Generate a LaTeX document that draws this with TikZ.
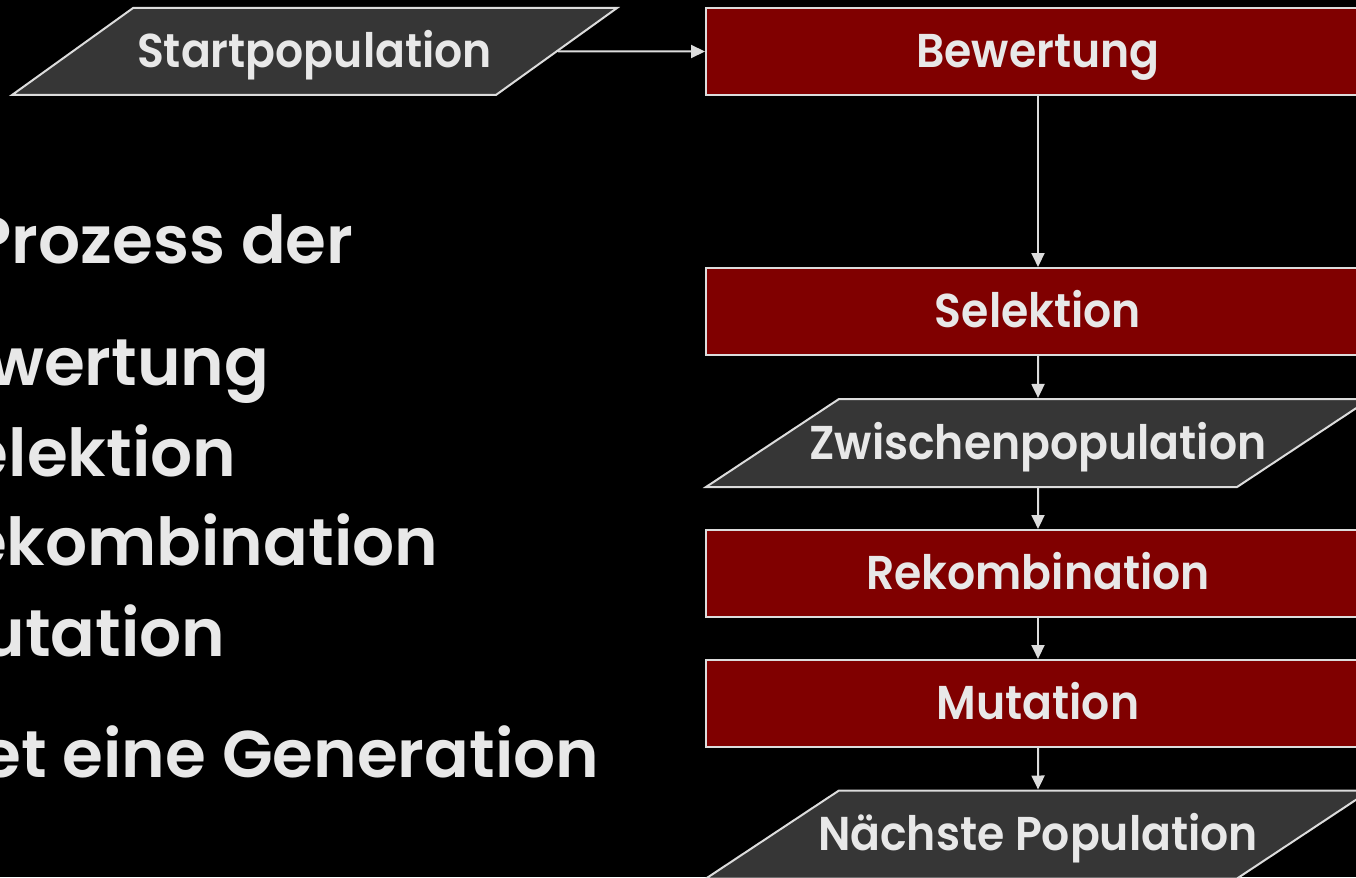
\documentclass[tikz,border=0pt]{standalone}
\usepackage{fontspec}
\setmainfont{Poppins}[BoldFont={Poppins SemiBold}]
\newfontfamily\boxfont{Poppins}[BoldFont={Poppins SemiBold}, FakeStretch=0.93]
\usetikzlibrary{arrows.meta,positioning,shapes.geometric}
\definecolor{SlideRed}{RGB}{128,0,0}
\definecolor{SlideGray}{RGB}{54,54,54}
\definecolor{SlideLine}{RGB}{220,220,220}
\definecolor{SlideText}{RGB}{232,232,232}

\begin{document}
\begin{tikzpicture}[x=0.1mm, y=-0.1mm,
    stepbox/.style={draw=SlideLine, line width=0.2mm, fill=SlideRed, text=SlideText,
        minimum width=66.4mm, minimum height=8.7mm, inner sep=0pt,
        text height=3.2mm, text depth=0mm,
        font=\boxfont\fontsize{13.5}{15}\selectfont\bfseries},
    databox/.style={trapezium, trapezium left angle=33.5, trapezium right angle=146.5,
        trapezium stretches body, draw=SlideLine, line width=0.2mm, fill=SlideGray,
        text=SlideText, minimum width=66.4mm, inner xsep=-4mm, inner ysep=2.8mm,
        text height=3.2mm, text depth=0mm,
        font=\boxfont\fontsize{13.5}{15}\selectfont\bfseries},
    flow/.style={-{Triangle[length=1.4mm,width=1.3mm]}, SlideLine, line width=0.2mm},
    slidetext/.style={anchor=base east, inner sep=0pt, text=SlideText,
        font=\fontsize{18.8}{22}\selectfont\bfseries}]
    % Slide background
    \useasboundingbox (0,0) rectangle (1356,877);
    \fill[black] (0,0) rectangle (1356,877);
    \clip (0,0) rectangle (1356,877);
    % Bullet text, cut at the left edge
    \foreach \txt/\xx/\yy [count=\i] in {Prozess der/354/264, wertung/270/385,
        elektion/237/476, ekombination/439/565, utation/226/656,
        et eine Generation/600/777} {
        \node[slidetext] (line\i) at (\xx,\yy) {\txt};
    }
    % Flow chart
    \node[databox, trapezium left angle=35.7, trapezium right angle=144.3,
        minimum width=60.5mm, inner ysep=2.75mm] (startpop) at (314.5,51.5) {Startpopulation};
    \node[stepbox] (bewertung) at (1038,51.5) {Bewertung};
    \node[stepbox] (selektion) at (1038,311.5) {Selektion};
    \node[databox] (zwischen) at (1038,443) {Zwischenpopulation};
    \node[stepbox] (rekomb) at (1038,573.5) {Rekombination};
    \node[stepbox] (mutation) at (1038,703.5) {Mutation};
    \node[databox] (naechste) at (1038,834.5) {Nächste Population};
    % Arrows
    \draw[flow] (startpop.east) -- (bewertung.west);
    \draw[flow] (bewertung.south) -- (selektion.north);
    \draw[flow] (selektion.south) -- (zwischen.north);
    \draw[flow] (zwischen.south) -- (rekomb.north);
    \draw[flow] (rekomb.south) -- (mutation.north);
    \draw[flow] (mutation.south) -- (naechste.north);
\end{tikzpicture}
\end{document}
